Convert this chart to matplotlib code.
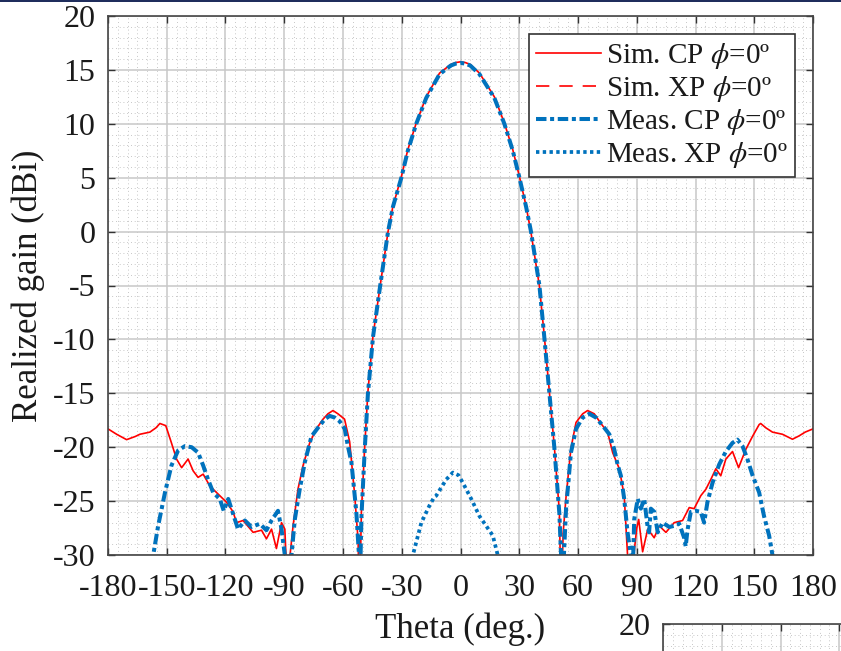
import numpy as np
import matplotlib
matplotlib.use("Agg")
import matplotlib.pyplot as plt
from matplotlib.patches import Rectangle
from matplotlib.ticker import MultipleLocator

plt.rcParams['font.family'] = ['Liberation Serif', 'DejaVu Serif']
plt.rcParams['mathtext.fontset'] = 'stix'
plt.rcParams['axes.unicode_minus'] = False

# ---------------- data ----------------
sim_cp_theta = [-180, -175.6, -170.5, -166, -163.7, -158.6, -155.5, -153.5, -150.5, -147.6,
                -145, -142.4, -139.1, -136.5, -134.0, -131.4, -128.0, -124.6, -119.5, -116.1,
                -114.4, -111.0, -105.9, -101.6, -99.1, -96.5, -94.0, -91.4, -89.7, -88.9,
                -88.3, -87.6, -85.5, -83.0, -80.4, -77.0, -73.6, -70.2, -67.7, -65.1,
                -62.6, -59.2, -56.6, -54.0, -52.3, -51.6, -50.6, -48.9, -47.3, -44.7,
                -41.0, -37.0, -34.5, -30.2, -26.9, -22.6, -17.5, -10.7, -5.0, -2.5,
                0, 2.5, 5.0, 9.7, 17.3, 22.4, 26.7, 30.1, 33.5, 36.0,
                40.3, 42.8, 45.4, 47.9, 50.5, 51.4, 52.4, 53.9, 56.4, 59.0,
                62.4, 64.9, 68.3, 71.7, 75.1, 77.7, 81.1, 83.6, 85.3, 86.5,
                88.5, 90.0, 91.0, 93.0, 95.6, 98.9, 101.5, 104.9, 109.1, 113.4,
                116.8, 119.3, 122.7, 125.3, 127.8, 130.4, 132.9, 135.5, 138.9, 142.0,
                145.7, 149.1, 152.5, 153.3, 155.9, 159.3, 164.4, 169.5, 172.9, 176.0,
                180]
sim_cp_gain = [-18.3, -18.8, -19.3, -19.0, -18.8, -18.6, -18.2, -17.8, -18.0, -19.6,
               -21.1, -21.9, -21.1, -22.2, -22.8, -22.5, -23.6, -24.2, -25.1, -26.0,
               -27.0, -26.8, -27.9, -27.7, -28.5, -27.6, -29.4, -27.0, -27.6, -31.0,
               -33.0, -31.0, -27.3, -23.9, -21.7, -19.6, -18.3, -17.4, -16.9, -16.6,
               -16.9, -17.4, -19.5, -24.5, -28.6, -35.0, -26.0, -19.9, -14.9, -9.7,
               -5.0, 0.0, 2.35, 5.1, 7.6, 10.07, 12.5, 14.7, 15.5, 15.68,
               15.75, 15.68, 15.5, 14.7, 12.5, 10.07, 7.6, 5.1, 2.35, -0.1,
               -5.06, -9.7, -14.9, -19.9, -26.0, -35.0, -28.0, -24.6, -20.1, -17.7,
               -16.9, -16.6, -16.9, -17.8, -18.6, -20.5, -22.0, -24.5, -30.0, -34.0,
               -30.0, -27.5, -26.7, -29.7, -27.6, -28.4, -27.3, -27.9, -27.0, -26.8,
               -25.6, -25.7, -24.5, -23.9, -23.0, -22.0, -22.65, -21.1, -20.4, -21.9,
               -20.2, -19.0, -17.9, -17.8, -18.2, -18.6, -18.8, -19.26, -18.95, -18.6,
               -18.3]

meas_cp_theta = [-157.5, -156.9, -154.4, -150.9, -147.6, -144.2, -140.7, -137.3, -134.0, -131.4,
                 -128.9, -126.3, -122.9, -120.9, -118.6, -116.1, -113.6, -110.1, -106.7, -102.5,
                 -99.1, -96.5, -93.2, -91.4, -89.7, -88.0, -86.3, -84.6, -82.1, -79.5,
                 -76.1, -72.8, -69.3, -66.8, -64.2, -61.7, -59.1, -57.5, -55.7, -53.2,
                 -51.85, -51.5, -50.6, -48.9, -47.3, -44.7, -41.0, -37.0, -34.5, -30.2,
                 -26.9, -22.6, -17.5, -10.7, -5.0, -2.5, 0, 2.5, 5.0, 9.7,
                 17.3, 22.4, 26.7, 30.1, 33.5, 36.0, 40.3, 42.8, 45.4, 47.9,
                 50.5, 51.35, 52.0, 52.8, 53.9, 56.4, 59.0, 62.4, 65.8, 69.2,
                 72.6, 76.0, 78.5, 80.2, 81.9, 83.6, 85.3, 87.0, 87.5, 88.2,
                 88.7, 90.5, 92.1, 93.8, 95.5, 96.3, 97.2, 99.0, 100.7, 103.2,
                 106.6, 109.1, 111.7, 114.2, 115.0, 115.9, 117.6, 120.1, 122.7, 124.4,
                 126.1, 128.7, 132.1, 135.5, 138.9, 141.4, 144.0, 146.5, 149.1, 152.5,
                 155.0, 157.6, 159.3, 160.0]
meas_cp_gain = [-31.0, -30.0, -27.3, -24.2, -21.7, -20.3, -19.9, -20.0, -20.5, -21.7,
                -23.0, -24.2, -24.8, -25.9, -24.8, -26.2, -27.6, -26.8, -27.4, -27.1,
                -27.7, -26.8, -25.9, -27.6, -30.0, -33.0, -30.0, -26.7, -23.9, -21.4,
                -19.0, -18.2, -17.4, -17.1, -17.25, -17.6, -18.3, -19.9, -21.4, -26.0,
                -30.0, -34.0, -26.5, -20.2, -15.1, -9.8, -5.0, 0.0, 2.3, 5.0,
                7.5, 10.0, 12.4, 14.6, 15.4, 15.58, 15.65, 15.58, 15.4, 14.6,
                12.4, 10.0, 7.5, 5.0, 2.3, 0.0, -5.0, -9.8, -15.0, -20.0,
                -26.2, -30.0, -34.0, -30.0, -25.7, -20.5, -18.3, -17.25, -16.9, -17.25,
                -18.0, -18.8, -20.2, -21.6, -22.65, -24.8, -27.9, -30.0, -32.0, -30.0,
                -26.7, -24.8, -25.7, -24.8, -27.3, -27.9, -25.7, -26.0, -27.9, -27.0,
                -27.4, -27.3, -27.1, -28.4, -29.2, -27.7, -26.0, -25.9, -26.0, -27.0,
                -25.1, -23.3, -21.6, -20.4, -19.6, -19.3, -19.9, -21.1, -22.6, -24.2,
                -26.4, -28.2, -30.0, -31.0]

meas_xp_theta = [-24.8, -24.3, -20.0, -15.8, -13.3, -12.4, -7.3, -3.9, -1.0, 1.2,
                 5.5, 9.7, 13.1, 16.5, 19.0, 19.5]
meas_xp_gain = [-31.0, -30.0, -27.0, -25.4, -24.6, -24.5, -23.0, -22.35, -22.6, -23.3,
                -24.8, -26.4, -27.3, -28.2, -30.0, -31.0]

labels = ['Sim. CP $\\phi$=0º', 'Sim. XP $\\phi$=0º',
          'Meas. CP $\\phi$=0º', 'Meas. XP $\\phi$=0º']
x_ticks = list(range(-180, 181, 30))
y_ticks = list(range(-30, 21, 5))

RED = '#ff0000'
BLUE = '#0072bd'

# ---------------- figure ----------------
W, H = 841, 651
fig = plt.figure(figsize=(W / 100, H / 100), dpi=100)


def style_axes(ax):
    ax.set_xlim(-180, 180)
    ax.set_ylim(-30, 20)
    ax.set_xticks(x_ticks)
    ax.set_yticks(y_ticks)
    ax.xaxis.set_minor_locator(MultipleLocator(5))
    ax.yaxis.set_minor_locator(MultipleLocator(1))
    ax.grid(which='major', color='#c8c8c8', lw=1.1, ls='-')
    ax.grid(which='minor', color='#b4b4b4', lw=0.6, ls=(0, (1, 3.5)))
    ax.set_axisbelow(True)
    ax.tick_params(which='major', direction='in', length=5, width=1.0,
                   top=True, right=True, color='#333333',
                   labelsize=23, labelcolor='#1a1a1a')
    ax.tick_params(axis='x', which='major', pad=14)
    ax.tick_params(axis='y', which='major', pad=9)
    ax.tick_params(which='minor', length=0, top=True, right=True)
    for s in ax.spines.values():
        s.set_color('#444444')
        s.set_linewidth(1.2)


ax = fig.add_axes([108 / W, 96 / H, 705 / W, 539 / H])
style_axes(ax)

ax.plot(sim_cp_theta, sim_cp_gain, color=RED, lw=1.2, label=labels[0])
ax.plot([], [], color=RED, lw=1.2, ls=(0, (8, 6)), label=labels[1])
ax.plot(meas_cp_theta, meas_cp_gain, color=BLUE, lw=2.9,
        ls=(0, (2.6, 0.9, 1.0, 0.9)), label=labels[2])
ax.plot(meas_xp_theta, meas_xp_gain, color=BLUE, lw=2.7,
        ls=(0, (0.9, 0.9)), label=labels[3])

ax.set_xlabel('Theta (deg.)', fontsize=25, color='#1a1a1a')
ax.xaxis.set_label_coords(0.5, -0.106)
ax.set_ylabel('Realized gain (dBi)', fontsize=25, color='#1a1a1a')
ax.yaxis.set_label_coords(-0.089, 0.5)

leg = ax.legend(loc='upper right', bbox_to_anchor=(0.9745, 0.9666),
                borderaxespad=0, fontsize=21, frameon=True, fancybox=False,
                edgecolor='#333333', framealpha=1, handlelength=2.25,
                handletextpad=0.15, labelspacing=0.1, borderpad=0.25)
leg.get_frame().set_linewidth(1.2)
for t in leg.get_texts():
    t.set_color('#1a1a1a')

# partial neighbouring chart at bottom right
ax2 = fig.add_axes([663 / W, (651 - 624 - 539) / H, 705 / W, 539 / H])
style_axes(ax2)
ax2.tick_params(labelbottom=False)
ax2.set_yticklabels([''] * (len(y_ticks) - 1) + [str(y_ticks[-1])])

# thin navy border at top
fig.add_artist(Rectangle((0, 1 - 2 / H), 1, 2 / H, transform=fig.transFigure,
                         color='#1f2d5c', lw=0))

fig.savefig('out.png', dpi=100)
